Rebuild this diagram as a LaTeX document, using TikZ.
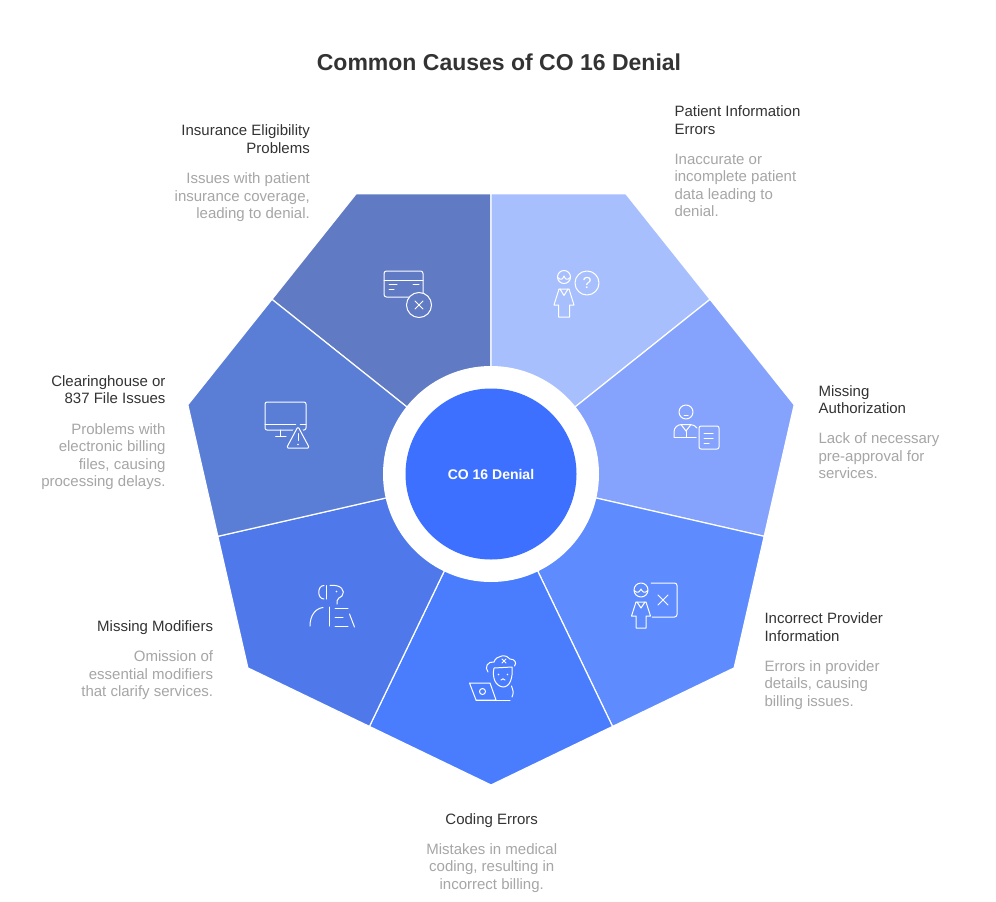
\documentclass[tikz,border=0pt]{standalone}
\usepackage{fontspec}
\setmainfont{Liberation Sans}
\definecolor{segI}{HTML}{607AC3}
\definecolor{segP}{HTML}{A8BFFE}
\definecolor{segA}{HTML}{85A3FD}
\definecolor{segR}{HTML}{5E8BFD}
\definecolor{segC}{HTML}{4A7CFE}
\definecolor{segM}{HTML}{4F79EA}
\definecolor{segH}{HTML}{5A7DD6}
\definecolor{centre}{HTML}{3D70FF}
\definecolor{darktxt}{HTML}{333333}
\definecolor{greytxt}{HTML}{A6A6A6}
\newcommand\fstrut{\rule{0pt}{12pt}}
\tikzset{
  ico/.style={draw=white, line width=1pt, line cap=round, line join=round},
  headtxt/.style={inner sep=0pt, text=darktxt, font=\fontsize{15}{17.5}\selectfont},
  desctxt/.style={inner sep=0pt, text=greytxt, font=\fontsize{15}{17.5}\selectfont},
  kite/.style={draw=white, line width=1.2pt, line join=miter},
}
\begin{document}
\begin{tikzpicture}[x=1pt,y=-1pt]
\useasboundingbox (0,0) rectangle (996,902);
\fill[white] (0,0) rectangle (996,902);
% heptagon segments
\begin{scope}[shift={(491,474)}]
\foreach \ang/\col in {-115.714/segI, -64.286/segP, -12.857/segA, 38.571/segR, 90/segC, 141.429/segM, -167.143/segH}{
  \filldraw[kite, fill=\col] (0,0) -- (\ang+25.714:280.2) -- (\ang:311) -- (\ang-25.714:280.2) -- cycle;
}
\end{scope}
% centre
\node[circle, fill=white, minimum size=216pt, inner sep=0pt] (ring) at (491,474) {};
\node[circle, fill=centre, minimum size=171pt, inner sep=0pt, text=white, font=\fontsize{14}{16}\selectfont\bfseries] (core) at (491,474) {CO 16 Denial};
% title
\node[anchor=base, inner sep=0pt, text=darktxt, font=\fontsize{23}{27}\selectfont\bfseries] (title) at (499,70) {Common Causes of CO 16 Denial};
% labels
\node[headtxt, anchor=north east, align=right] (h1) at (310,123.3) {\fstrut Insurance Eligibility\\Problems};
\node[desctxt, anchor=north east, align=right] (d1) at (310,171.3) {\fstrut Issues with patient\\insurance coverage,\\leading to denial.};
\node[headtxt, anchor=north west, align=left] (h2) at (674.3,104.7) {\fstrut Patient Information\\Errors};
\node[desctxt, anchor=north west, align=left] (d2) at (674.3,152) {\fstrut Inaccurate or\\incomplete patient\\data leading to\\denial.};
\node[headtxt, anchor=north west, align=left] (h3) at (818.3,384) {\fstrut Missing\\Authorization};
\node[desctxt, anchor=north west, align=left] (d3) at (818.3,431.3) {\fstrut Lack of necessary\\pre-approval for\\services.};
\node[headtxt, anchor=north west, align=left] (h4) at (764.3,611.3) {\fstrut Incorrect Provider\\Information};
\node[desctxt, anchor=north west, align=left] (d4) at (764.3,659) {\fstrut Errors in provider\\details, causing\\billing issues.};
\node[headtxt, anchor=north, align=center] (h5) at (491.7,812) {\fstrut Coding Errors};
\node[desctxt, anchor=north, align=center] (d5) at (491.7,842) {\fstrut Mistakes in medical\\coding, resulting in\\incorrect billing.};
\node[headtxt, anchor=north east, align=right] (h6) at (213.3,619.7) {\fstrut Missing Modifiers};
\node[desctxt, anchor=north east, align=right] (d6) at (213.3,649.7) {\fstrut Omission of\\essential modifiers\\that clarify services.};
\node[headtxt, anchor=north east, align=right] (h7) at (165.7,374) {\fstrut Clearinghouse or\\837 File Issues};
\node[desctxt, anchor=north east, align=right] (d7) at (165.7,422) {\fstrut Problems with\\electronic billing\\files, causing\\processing delays.};
% ---- icons ----
% insurance card
\draw[ico, rounded corners=2.5pt] (384,271) rectangle (423,297);
\draw[ico] (384,280) -- (423,280);
\draw[ico] (389,284.5) -- (397,284.5) (413,284.5) -- (419,284.5) (389,289.5) -- (394,289.5);
\filldraw[ico, fill=segI] (419,305) circle (12.5);
\draw[ico] (415,301) -- (423,309) (423,301) -- (415,309);
% patient
\draw[ico] (564,277) circle (6.5);
\draw[ico] (557.7,277.5) .. controls (561,281) and (563,279) .. (564,276) .. controls (565,279) and (567,281) .. (570.3,277.5);
\draw[ico] (559,289) -- (554,305) -- (558.5,305) -- (558.5,317) -- (569.5,317) -- (569.5,305) -- (574,305) -- (569,289) -- cycle;
\draw[ico] (560,289) -- (564,295.5) -- (568,289);
\draw[ico] (587,283) circle (12);
\node[text=white, inner sep=0pt, font=\fontsize{16}{16}\selectfont] (qm) at (587,283) {?};
% authorization
\draw[ico] (686,412) circle (7);
\draw[ico] (684,415.5) -- (688,415.5);
\draw[ico] (674,437) -- (674,432) .. controls (674,427) and (678,424.5) .. (682,424.5) -- (690,424.5) .. controls (693,424.5) and (696,426) .. (697,428);
\draw[ico] (674,437) -- (696,437);
\draw[ico] (681,424.5) -- (686,431) -- (691,424.5);
\draw[ico] (686,431) -- (686,437);
\filldraw[ico, fill=segA, rounded corners=2pt] (699,426) rectangle (719,449);
\draw[ico] (704,433) -- (713,433) (704,438) -- (713,438) (704,443) -- (709,443);
% clearinghouse monitor
\draw[ico, rounded corners=2pt] (265,402) rectangle (306,430);
\draw[ico] (265,424) -- (306,424);
\draw[ico] (280.5,430) -- (280.5,436.5);
\draw[ico] (275.5,436.5) -- (286,436.5);
\fill[segH] (298,421) -- (283,450) -- (313,450) -- cycle;
\draw[ico, rounded corners=1.5pt] (298,426.5) -- (286.5,448) -- (309.5,448) -- cycle;
\draw[ico] (298,433.5) -- (298,440.5);
\fill[white] (298,444.5) circle (0.9);
% provider
\draw[ico, rounded corners=2.5pt] (651,583) -- (677,583) -- (677,617) -- (652,617);
\draw[ico] (641,590) circle (7);
\draw[ico] (634.2,590.5) .. controls (637.5,594) and (639.5,592) .. (641,589) .. controls (642.5,592) and (644.5,594) .. (647.8,590.5);
\draw[ico] (636,602) -- (631.5,616) -- (636,616) -- (636,628) -- (646,628) -- (646,616) -- (650.5,616) -- (646,602) -- cycle;
\draw[ico] (637,602) -- (641,608) -- (645,602);
\draw[ico] (658,595) -- (668,605) (668,595) -- (658,605);
% modifiers
\draw[ico] (326,585.5) -- (326,599);
\draw[ico] (324,585.5) .. controls (317,585.5) and (317,599) .. (324,599);
\draw[ico] (330,585.5) .. controls (341,584) and (346,591) .. (342,596) .. controls (340,598) and (337,598) .. (337,601) -- (337,604);
\fill[white] (336.5,591.5) circle (0.9);
\draw[ico] (310,626) .. controls (310,616) and (315,608.5) .. (323,607.5);
\draw[ico] (329.5,607) -- (329.5,626);
\draw[ico] (335,608) -- (348,608) (335,617) -- (343,617) (335,626) -- (348,626);
\draw[ico] (349.5,614) -- (354.5,627);
% coding
\draw[ico] (469.5,683) -- (490,683) -- (496,700) -- (476,700) -- cycle;
\draw[ico] (482.5,691.5) circle (3);
\draw[ico] (476,700) -- (510,700);
\draw[ico] (488,672) .. controls (484,667) and (488,661) .. (494,662) .. controls (496,655) and (507,654) .. (510,659) .. controls (515,659) and (517,663) .. (514.5,666);
\draw[ico] (494,668) .. controls (492,677) and (495,686) .. (503,687) .. controls (510,687) and (513,678) .. (512,667) -- (494,668);
\draw[ico] (511.5,686) .. controls (513,690) and (514,693) .. (512,697);
\draw[ico] (501,680) .. controls (502,678.5) and (504,678.5) .. (505,680);
\fill[white] (498.5,674.5) circle (0.9) (507.5,674.5) circle (0.9);
\draw[ico] (502,659) -- (506,663) (506,659) -- (502,663);
\end{tikzpicture}
\end{document}
